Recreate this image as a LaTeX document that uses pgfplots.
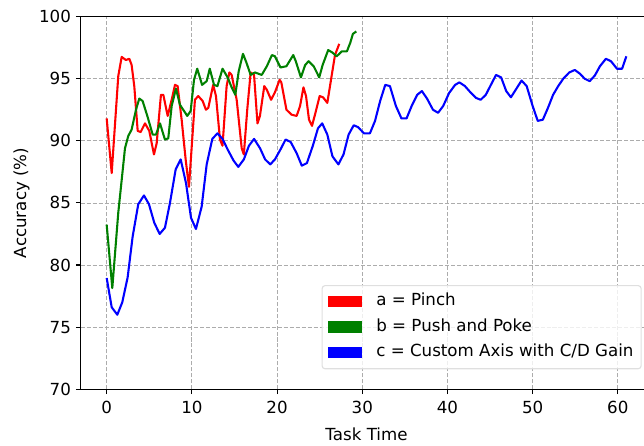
\documentclass[border=0pt]{standalone}
\usepackage{fontspec}
\setmainfont{DejaVu Sans}
\usepackage{pgfplots}
\pgfplotsset{compat=1.18}
\begin{document}
\begin{tikzpicture}
\begin{axis}[
  at={(0,0)}, anchor=south west,
  scale only axis,
  width=411.6pt, height=268.4pt,
  xmin=-3.05, xmax=64.05,
  ymin=70, ymax=100,
  xtick={0,10,20,30,40,50,60},
  ytick={70,75,80,85,90,95,100},
  tick align=outside,
  tick pos=left,
  major tick length=3.5pt,
  every tick/.style={black, line width=0.8pt},
  axis line style={black, line width=0.8pt},
  /pgf/number format/assume math mode=true,
  tick label style={font=\fontsize{12}{14}\selectfont},
  xticklabel style={yshift=-1.5pt},
  label style={font=\fontsize{12}{14}\selectfont},
  xlabel={Task Time},
  xlabel style={yshift=-3pt},
  ylabel={Accuracy (\%)},
  grid=major,
  major grid style={gray!65, line width=0.55pt, dash pattern=on 2.9pt off 1.4pt},
  legend cell align=left,
  legend image code/.code={\path[#1, draw=none, fill, sharp corners, fill opacity=1] (0pt,-4.1pt) rectangle (24.5pt,4.1pt);},
  legend style={
    at={(0.9813,0.0537)}, anchor=south east,
    font=\fontsize{12}{14}\selectfont,
    draw=gray!25, line width=0.8pt, rounded corners=2pt,
    fill=white, fill opacity=0.8, text opacity=1,
    inner xsep=4.5pt, inner ysep=4.5pt,
    row sep=4.4pt,
    nodes={inner sep=1pt, text height=9pt, text depth=3pt},
    /tikz/every odd column/.append style={column sep=9pt},
  },
  line join=round,
]
\addplot[red, line width=1.5pt] coordinates {
(0,91.8) (0.59,87.4) (1.36,95.2) (1.76,96.75) (2.26,96.5) (2.66,96.6) (2.93,96.1)
(3.24,94.4) (3.64,90.8) (3.99,90.7) (4.5,91.4) (5.0,90.8) (5.55,88.9) (5.87,89.8)
(6.37,93.7) (6.65,93.7) (7.16,92.0) (7.63,93.3) (8.02,94.5) (8.33,94.4) (8.8,91.7)
(9.27,88.5) (9.66,86.3) (10.36,93.3) (10.75,93.6) (11.27,93.2) (11.65,92.5) (11.93,92.65)
(12.5,94.5) (12.83,93.6) (13.3,90.1) (13.6,89.6) (14.08,94.4) (14.4,95.5) (14.67,95.3)
(15.26,93.3) (15.85,89.4) (16.1,88.9) (16.5,92.5) (16.9,95.5) (17.3,95.3) (17.7,91.4)
(17.99,92.0) (18.5,94.4) (18.8,94.1) (19.3,93.3) (19.75,93.9) (20.3,94.9) (20.5,94.7)
(21.1,92.5) (21.7,92.1) (22.3,92.0) (22.7,92.8) (23.1,94.3) (23.4,93.6) (23.75,91.7)
(24.1,91.2) (24.45,92.1) (25.0,93.6) (25.4,93.5) (25.9,93.05) (26.4,95.2) (26.8,96.9)
(27.3,97.8)
};
\addlegendentry{a = Pinch}
\addplot[green!50!black, line width=1.5pt] coordinates {
(0,83.25) (0.66,78.15) (1.36,84.2) (2.15,89.4) (2.54,90.4) (2.93,90.9) (3.44,92.5)
(3.83,93.4) (4.22,93.2) (4.77,92.0) (5.4,90.5) (5.79,90.5) (6.26,91.4) (6.84,90.1)
(7.23,90.2) (7.63,92.8) (8.13,94.2) (8.6,92.9) (9.46,92.0) (9.86,92.4) (10.25,94.9)
(10.63,95.8) (11.2,94.5) (11.74,94.8) (12.1,95.8) (12.6,94.5) (13.0,94.4) (13.6,95.8)
(14.2,95.1) (14.67,94.3) (15.1,93.7) (15.5,95.6) (16.0,97.0) (16.4,96.3) (16.9,95.3)
(17.4,95.5) (18.2,95.3) (18.8,96.0) (19.4,96.9) (19.75,96.8) (20.4,95.9) (21.1,96.0)
(21.9,96.9) (22.2,96.4) (22.8,95.1) (23.3,96.1) (23.7,96.4) (24.3,96.0) (24.95,95.1)
(25.35,96.1) (26.0,97.3) (26.5,97.1) (27.0,96.8) (27.6,97.2) (28.2,97.2) (28.6,97.9)
(28.9,98.6) (29.3,98.8)
};
\addlegendentry{b = Push and Poke}
\addplot[blue, line width=1.5pt] coordinates {
(0,78.96) (0.59,76.6) (1.25,76.0) (1.83,77.0) (2.46,79.0) (3.05,82.3) (3.71,84.9)
(4.38,85.6) (4.96,84.9) (5.59,83.4) (6.22,82.5) (6.84,83.0) (7.43,85.0) (8.1,87.7)
(8.69,88.5) (9.31,86.6) (9.9,83.8) (10.48,82.9) (11.15,84.7) (11.74,88.1) (12.4,90.15)
(13.0,90.6) (13.6,90.15) (14.2,89.3) (14.9,88.4) (15.45,87.9) (16.1,88.5) (16.7,89.6)
(17.3,90.15) (18.0,89.4) (18.6,88.5) (19.2,88.1) (19.75,88.5) (20.4,89.3) (21.0,90.1)
(21.6,89.9) (22.3,89.0) (22.9,88.0) (23.5,88.2) (24.2,89.6) (24.8,91.0) (25.3,91.4)
(25.9,90.5) (26.5,88.75) (27.2,88.1) (27.8,88.9) (28.4,90.5) (29.0,91.25) (29.5,91.1)
(30.2,90.6) (30.9,90.6) (31.5,91.6) (32.1,93.2) (32.7,94.5) (33.25,94.4) (33.95,92.8)
(34.6,91.8) (35.2,91.8) (35.8,92.8) (36.45,93.7) (37.0,94.0) (37.6,93.4) (38.3,92.5)
(38.9,92.25) (39.5,92.8) (40.2,93.85) (40.9,94.5) (41.4,94.7) (42.05,94.4) (42.7,93.9)
(43.35,93.45) (43.9,93.3) (44.5,93.7) (45.1,94.5) (45.7,95.3) (46.3,95.1) (46.9,94.0)
(47.45,93.5) (48.1,94.2) (48.7,94.85) (49.3,94.4) (50.0,92.8) (50.6,91.6) (51.2,91.7)
(51.8,92.65) (52.4,93.7) (53.0,94.4) (53.6,95.0) (54.3,95.5) (54.95,95.7) (55.55,95.4)
(56.1,95.0) (56.7,94.8) (57.3,95.25) (57.9,96.0) (58.6,96.6) (59.2,96.4) (59.9,95.8)
(60.5,95.8) (61.0,96.8)
};
\addlegendentry{c = Custom Axis with C/D Gain}
\end{axis}
\pgfresetboundingbox
\path[use as bounding box] (-58.1pt,-40.8pt) rectangle (405.6pt,280.3pt);
\end{tikzpicture}
\end{document}
